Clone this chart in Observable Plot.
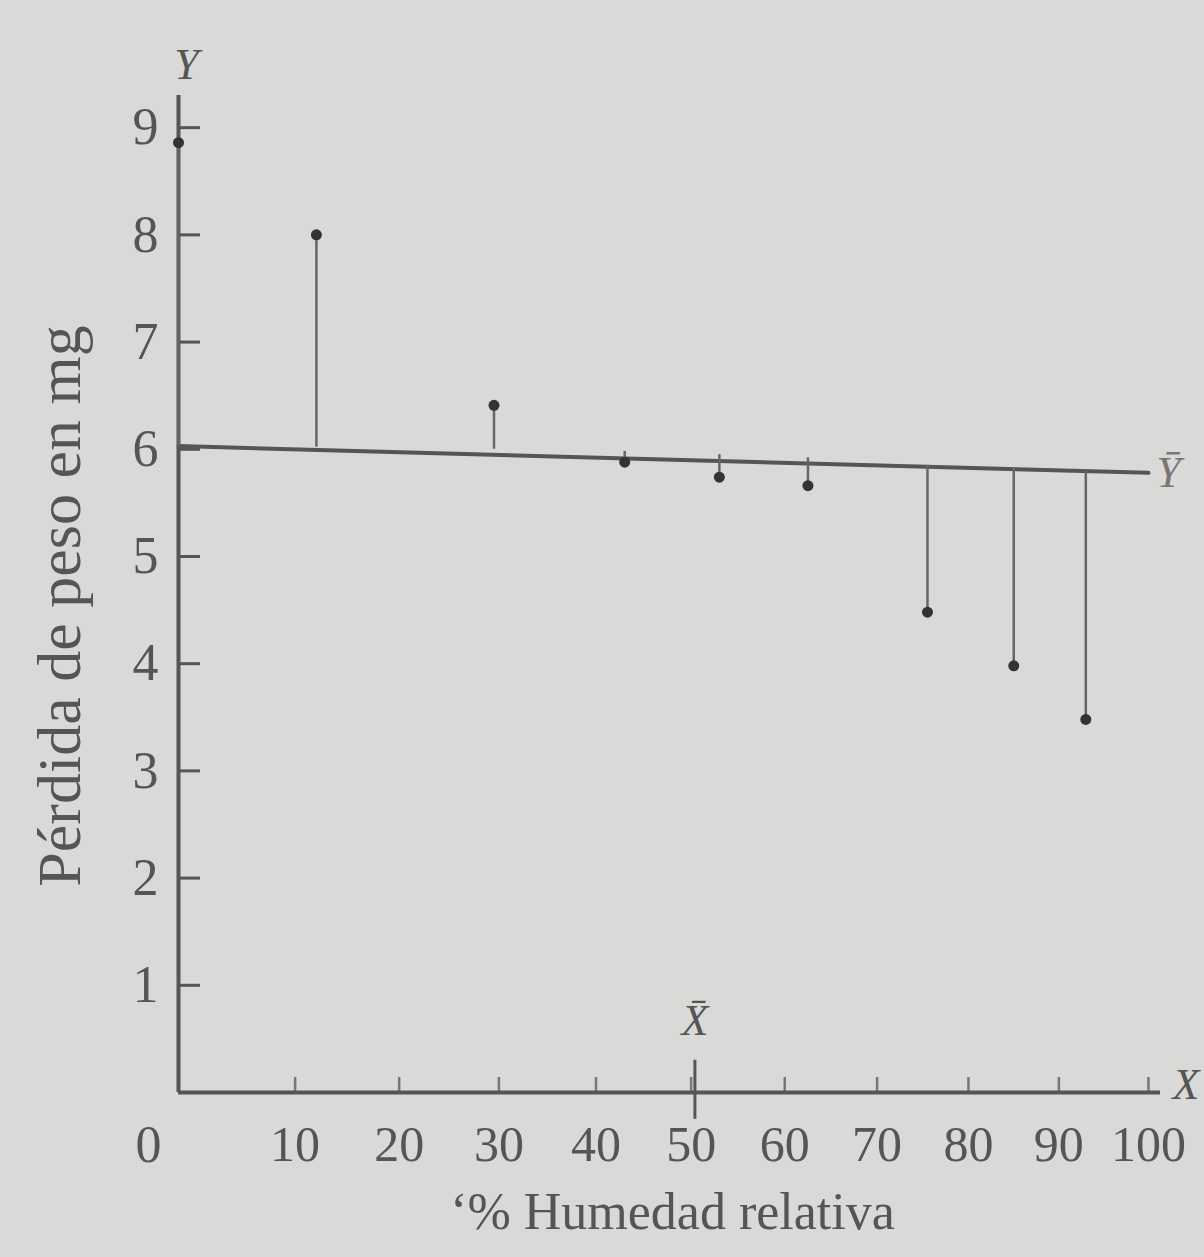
<!DOCTYPE html>
<html>
<head>
<meta charset="utf-8">
<script src="https://cdn.jsdelivr.net/npm/d3@7"></script>
<script src="https://cdn.jsdelivr.net/npm/@observablehq/plot@0.6"></script>
<style>
  html, body { margin: 0; padding: 0; background: #d9d9d7; }
  #chart { width: 1204px; height: 1257px; overflow: hidden; }
</style>
</head>
<body>
<div id="chart"></div>
<script>
// Data
const humedad = [0, 12, 29.5, 43, 53, 62.5, 75.5, 85, 93];          // % humedad relativa (X)
const perdida = [8.86, 8.00, 6.41, 5.88, 5.74, 5.66, 4.48, 3.98, 3.48]; // pérdida de peso en mg (Y)
const nivelLinea = [6.03, 6.02, 6.00, 5.98, 5.95, 5.92, 5.85, 5.83, 5.80]; // Ȳ line level at each X (as drawn)
const lineaX = [0, 100];
const lineaY = [6.03, 5.78];
const mediaX = 50.4;
const yTicks = [1, 2, 3, 4, 5, 6, 7, 8, 9];
const xTicks = [10, 20, 30, 40, 50, 60, 70, 80, 90, 100];

const puntos = humedad.map((x, i) => ({x, y: perdida[i], top: nivelLinea[i]}));
const linea = lineaX.map((x, i) => ({x, y: lineaY[i]}));

const ink = "#555";
const serif = "'Liberation Serif', 'DejaVu Serif', serif";

const hasAxisMarks = typeof Plot.axisX === "function";
const axisMarks = hasAxisMarks ? [
  Plot.axisY(yTicks, {tickSize: -22, tickPadding: 42, strokeWidth: 3, stroke: ink, fill: ink, label: null, tickFormat: d => String(d), fontSize: 52}),
  Plot.axisX(xTicks, {tickSize: -15, tickPadding: 48, strokeWidth: 2.5, stroke: "#777", fill: ink, label: null, tickFormat: d => String(d), fontSize: 50})
] : [];

const chart = Plot.plot({
  width: 1204,
  height: 1257,
  marginLeft: 178,
  marginRight: 44,
  marginTop: 95,
  marginBottom: 165,
  style: {background: "transparent", fontFamily: serif, fontSize: "50px", color: ink},
  x: {type: "pow", exponent: 0.92, domain: [0, 101.35], ticks: xTicks, tickSize: -15, tickPadding: 48, label: null, tickFormat: d => String(d), axis: hasAxisMarks ? null : undefined},
  y: {domain: [0, 9.3], ticks: yTicks, tickSize: -22, tickPadding: 42, label: null, tickFormat: d => String(d), axis: hasAxisMarks ? null : undefined},
  marks: [
    ...axisMarks,
    // axes lines
    Plot.ruleX([0], {stroke: ink, strokeWidth: 4}),
    Plot.ruleY([0], {stroke: ink, strokeWidth: 4}),
    // mean X marker
    Plot.ruleX([mediaX], {y1: -0.25, y2: 0.3, stroke: ink, strokeWidth: 3}),
    Plot.text([mediaX], {x: d => d, y: () => 0, text: () => "X\u0304", dy: -72, textAnchor: "middle", fontStyle: "italic", fontSize: 44, fill: ink}),
    // Ȳ line
    Plot.line(linea, {x: "x", y: "y", stroke: ink, strokeWidth: 4}),
    Plot.text([linea[linea.length - 1]], {x: "x", y: "y", text: () => "\u0232", dx: 20, textAnchor: "middle", fontStyle: "italic", fontSize: 44, fill: "#777"}),
    // deviations
    Plot.ruleX(puntos, {x: "x", y1: "top", y2: "y", stroke: "#666", strokeWidth: 2.5}),
    Plot.dot(puntos, {x: "x", y: "y", r: 5.5, fill: "#333", stroke: "none"}),
    // axis letters
    Plot.text(["Y"], {frameAnchor: "top-left", text: d => d, dx: 8, dy: -48, textAnchor: "middle", fontStyle: "italic", fontSize: 44, fill: ink}),
    Plot.text(["X"], {frameAnchor: "bottom-right", text: d => d, dx: 12, dy: 6, textAnchor: "start", fontStyle: "italic", fontSize: 44, fill: ink}),
    Plot.text(["0"], {frameAnchor: "bottom-left", text: d => d, dx: -30, dy: 33, textAnchor: "middle", lineAnchor: "top", fontSize: 52, fill: ink}),
    // titles
    Plot.text(["P\u00e9rdida de peso en mg"], {frameAnchor: "left", text: d => d, dx: -118, dy: 12, textAnchor: "middle", rotate: -90, fontSize: 62, fill: ink}),
    Plot.text(["\u2018% Humedad relativa"], {frameAnchor: "bottom", text: d => d, dx: 3, dy: 136, textAnchor: "middle", fontSize: 52, fill: ink})
  ]
});
document.getElementById("chart").appendChild(chart);
</script>
</body>
</html>
